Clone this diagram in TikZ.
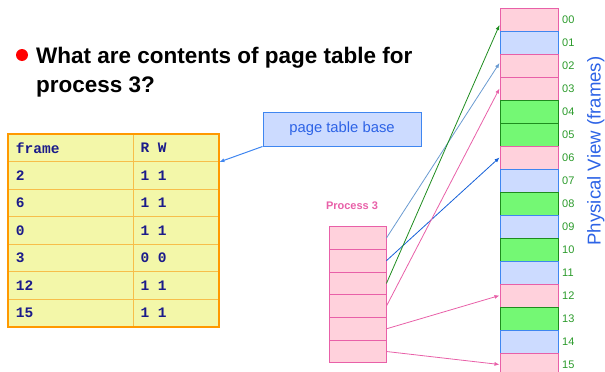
\documentclass[tikz,border=0pt]{standalone}
\usepackage{fontspec}
\setmainfont{Liberation Sans}
\newfontfamily\courfont{Liberation Mono}
\usetikzlibrary{arrows.meta}

\definecolor{pfill}{HTML}{FFD1DC}
\definecolor{pline}{HTML}{E860A8}
\definecolor{bfill}{HTML}{CCDBFF}
\definecolor{bline}{HTML}{3F86F0}
\definecolor{gfill}{HTML}{74F874}
\definecolor{gline}{HTML}{1E8C1E}
\definecolor{yfill}{HTML}{F3F7A9}
\definecolor{oline}{HTML}{FF9900}
\definecolor{ocell}{HTML}{F7BE4A}
\definecolor{navy}{HTML}{1B1B8A}
\definecolor{lblgreen}{HTML}{2A9A2A}
\definecolor{txtblue}{HTML}{2D63E6}
\definecolor{arrsteel}{HTML}{6A9BD1}
\definecolor{arrblue}{HTML}{1560D8}

% one monospace column of blank
\newcommand\colgap{\hspace{.6em}}

\begin{document}
\begin{tikzpicture}[x=1pt, y=-1pt,
  frm/.style={draw, minimum width=58pt, minimum height=23pt, inner sep=0pt, line width=1pt},
  pfrm/.style={frm, fill=pfill, draw=pline},
  bfrm/.style={frm, fill=bfill, draw=bline},
  gfrm/.style={frm, fill=gfill, draw=gline},
  flbl/.style={anchor=west, inner sep=0pt, text=lblgreen, font=\fontsize{11}{13}\selectfont},
  prow/.style={draw=pline, fill=pfill, line width=0.9pt, minimum width=57pt, minimum height=22.7pt, inner sep=0pt},
  cella/.style={draw=ocell, fill=yfill, line width=0.8pt, text width=109pt, inner xsep=8pt, inner ysep=0pt,
    minimum height=27.57pt, align=left, text=navy, font=\courfont\bfseries\fontsize{14.5}{16}\selectfont},
  cellb/.style={cella, text width=71pt, inner xsep=7.5pt},
  map/.style={line width=0.8pt, -{Latex[length=5pt,width=4pt]}}]
\useasboundingbox (0,0) rectangle (605,372);

% question
\node[circle, fill=red, inner sep=0pt, minimum size=12pt] (dot) at (22,55){};
\node[anchor=north west, inner sep=0pt, align=left, font=\bfseries\fontsize{22.5}{28.5}\selectfont] (q) at (36,47)
  {What are contents of page table for\\process 3?};

% page table of process 3
\node[cella] (cf0) at (70.5,147.8){frame};
\node[cellb] (crw0) at (176,147.8){R\colgap W};
\node[cella] (cf1) at (70.5,175.4){2};
\node[cellb] (crw1) at (176,175.4){1\colgap 1};
\node[cella] (cf2) at (70.5,202.9){6};
\node[cellb] (crw2) at (176,202.9){1\colgap 1};
\node[cella] (cf3) at (70.5,230.5){0};
\node[cellb] (crw3) at (176,230.5){1\colgap 1};
\node[cella] (cf4) at (70.5,258.1){3};
\node[cellb] (crw4) at (176,258.1){0\colgap 0};
\node[cella] (cf5) at (70.5,285.6){12};
\node[cellb] (crw5) at (176,285.6){1\colgap 1};
\node[cella] (cf6) at (70.5,313.2){15};
\node[cellb] (crw6) at (176,313.2){1\colgap 1};
\draw[oline, line width=2pt] (cf0.north west) rectangle (crw6.south east);

% page table base
\node[draw=bline, fill=bfill, line width=1pt, minimum width=158pt, minimum height=34pt, inner sep=0pt,
  text=txtblue, font=\fontsize{14.8}{17}\selectfont] (ptb) at (342,129){page table base};
\draw[bline, line width=1pt, -{Latex[length=5pt,width=4pt]}] (ptb.south west) -- (crw0.south east);

% process 3 pages
\node[text=pline, font=\bfseries\fontsize{11}{13}\selectfont] (plbl) at (352,206){Process 3};
\node[prow] (pg0) at (357.5,238){};
\node[prow] (pg1) at (357.5,260.7){};
\node[prow] (pg2) at (357.5,283.4){};
\node[prow] (pg3) at (357.5,306.1){};
\node[prow] (pg4) at (357.5,328.8){};
\node[prow] (pg5) at (357.5,351.5){};

% physical frames
\node[pfrm] (f0) at (529,19.5){};
\node[bfrm] (f1) at (529,42.5){};
\node[pfrm] (f2) at (529,65.5){};
\node[pfrm] (f3) at (529,88.5){};
\node[gfrm] (f4) at (529,111.5){};
\node[gfrm] (f5) at (529,134.5){};
\node[pfrm] (f6) at (529,157.5){};
\node[bfrm] (f7) at (529,180.5){};
\node[gfrm] (f8) at (529,203.5){};
\node[bfrm] (f9) at (529,226.5){};
\node[gfrm] (f10) at (529,249.5){};
\node[bfrm] (f11) at (529,272.5){};
\node[pfrm] (f12) at (529,295.5){};
\node[gfrm] (f13) at (529,318.5){};
\node[bfrm] (f14) at (529,341.5){};
\node[pfrm] (f15) at (529,364.5){};
\node[flbl] (l0) at (562,19.5){00};
\node[flbl] (l1) at (562,42.5){01};
\node[flbl] (l2) at (562,65.5){02};
\node[flbl] (l3) at (562,88.5){03};
\node[flbl] (l4) at (562,111.5){04};
\node[flbl] (l5) at (562,134.5){05};
\node[flbl] (l6) at (562,157.5){06};
\node[flbl] (l7) at (562,180.5){07};
\node[flbl] (l8) at (562,203.5){08};
\node[flbl] (l9) at (562,226.5){09};
\node[flbl] (l10) at (562,249.5){10};
\node[flbl] (l11) at (562,272.5){11};
\node[flbl] (l12) at (562,295.5){12};
\node[flbl] (l13) at (562,318.5){13};
\node[flbl] (l14) at (562,341.5){14};
\node[flbl] (l15) at (562,364.5){15};
\node[rotate=90, anchor=base, inner sep=0pt, text=txtblue, font=\fontsize{18.6}{22}\selectfont] (pv) at (600.5,151){Physical View (frames)};

% page -> frame
\draw[map, arrsteel] (pg0.east) -- ([yshift=2.5pt]f2.west);
\draw[map, arrblue] (pg1.east) -- (f6.west);
\draw[map, gline] (pg2.east) -- ([yshift=-5.5pt]f0.west);
\draw[map, pline] (pg3.east) -- (f3.west);
\draw[map, pline] (pg4.east) -- (f12.west);
\draw[map, pline] (pg5.east) -- (f15.west);
\end{tikzpicture}
\end{document}
